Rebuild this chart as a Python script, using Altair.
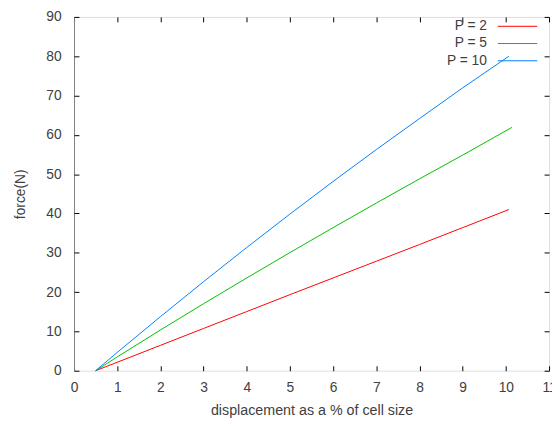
import altair as alt
import pandas as pd

# Data
series_names = ["P = 2", "P = 5", "P = 10"]
series_colors = ["#ff0000", "#00c000", "#0080ff"]

x_p2 = [0.5, 1, 2, 3, 4, 5, 6, 7, 8, 9, 10.07]
y_p2 = [0, 2.15, 6.45, 10.75, 15.05, 19.35, 23.6, 27.85, 32.1, 36.4, 41.0]

x_p5 = [0.5, 1, 2, 3, 4, 5, 6, 7, 8, 9, 10.14]
y_p5 = [0, 3.5, 10.35, 17.05, 23.6, 30.05, 36.4, 42.65, 48.8, 54.85, 61.9]

x_p10 = [0.5, 1, 2, 3, 4, 5, 6, 7, 8, 9, 10.07]
y_p10 = [0, 4.65, 13.75, 22.65, 31.35, 39.85, 48.15, 56.25, 64.15, 71.95, 80.0]

x_ticks = list(range(0, 12))
y_ticks = list(range(0, 100, 10))

rows = []
for name, xs, ys in [("P = 2", x_p2, y_p2), ("P = 5", x_p5, y_p5), ("P = 10", x_p10, y_p10)]:
    for i, (xv, yv) in enumerate(zip(xs, ys)):
        rows.append({"series": name, "x": xv, "y": yv, "order": i})
df = pd.DataFrame(rows)

FONT = "Liberation Sans"
TXT = "#404040"

xscale = alt.Scale(domain=[0, 11], nice=False, zero=False)
yscale = alt.Scale(domain=[0, 90], nice=False, zero=False)

base = alt.Chart(df)

lines = base.mark_line(strokeWidth=1).encode(
    x=alt.X("x:Q", scale=xscale,
            axis=alt.Axis(orient="bottom", values=x_ticks, ticks=False, domain=False, grid=False,
                          labelPadding=10, labelFontSize=14, labelColor=TXT, labelFont=FONT,
                          title="displacement as a % of cell size", titleFontSize=14.5,
                          titleFontWeight="normal", titleColor=TXT, titleFont=FONT,
                          titlePadding=9, labelFlush=False)),
    y=alt.Y("y:Q", scale=yscale,
            axis=alt.Axis(orient="left", values=y_ticks, ticks=False, domain=True,
                          domainColor="#808080", grid=False,
                          labelPadding=13, labelFontSize=14, labelColor=TXT, labelFont=FONT,
                          title="force(N)", titleFontSize=14, titleFontWeight="normal",
                          titleColor=TXT, titleFont=FONT, titlePadding=19, labelFlush=False)),
    color=alt.Color("series:N",
                    scale=alt.Scale(domain=series_names, range=series_colors),
                    sort=series_names,
                    legend=alt.Legend(title=None, orient="none", legendX=443, legendY=2.5,
                                      symbolType="M-4,0L4,0", symbolSize=100,
                                      symbolStrokeWidth=1,
                                      labelAlign="right", labelOffset={"expr": "-38"},
                                      labelFontSize=14,
                                      labelFont=FONT, labelColor=TXT, padding=0,
                                      rowPadding=3.5, labelLimit=200)),
    order="order:Q",
)

def tick_axis(orient, vals):
    return alt.Axis(orient=orient, values=vals, labels=False, domain=False, grid=False,
                    ticks=True, tickSize=5, tickColor="#000000", offset=-5, title=None)

ticks_bl = base.mark_point(opacity=0).encode(
    x=alt.X("x:Q", scale=xscale, axis=tick_axis("bottom", x_ticks)),
    y=alt.Y("y:Q", scale=yscale, axis=tick_axis("left", y_ticks)),
)
ticks_tr = base.mark_point(opacity=0).encode(
    x=alt.X("x:Q", scale=xscale, axis=tick_axis("top", x_ticks)),
    y=alt.Y("y:Q", scale=yscale, axis=tick_axis("right", y_ticks)),
)

chart = alt.layer(lines, ticks_bl, ticks_tr).resolve_axis(
    x="independent", y="independent"
).properties(
    width=482, height=359,
    autosize=alt.AutoSizeParams(type="none"),
    padding={"left": 67, "top": 6, "right": 3, "bottom": 50},
).configure_view(stroke="#000000", strokeWidth=1).configure(background="white")

chart.save("out.html", embed_options={"renderer": "svg", "actions": False})
